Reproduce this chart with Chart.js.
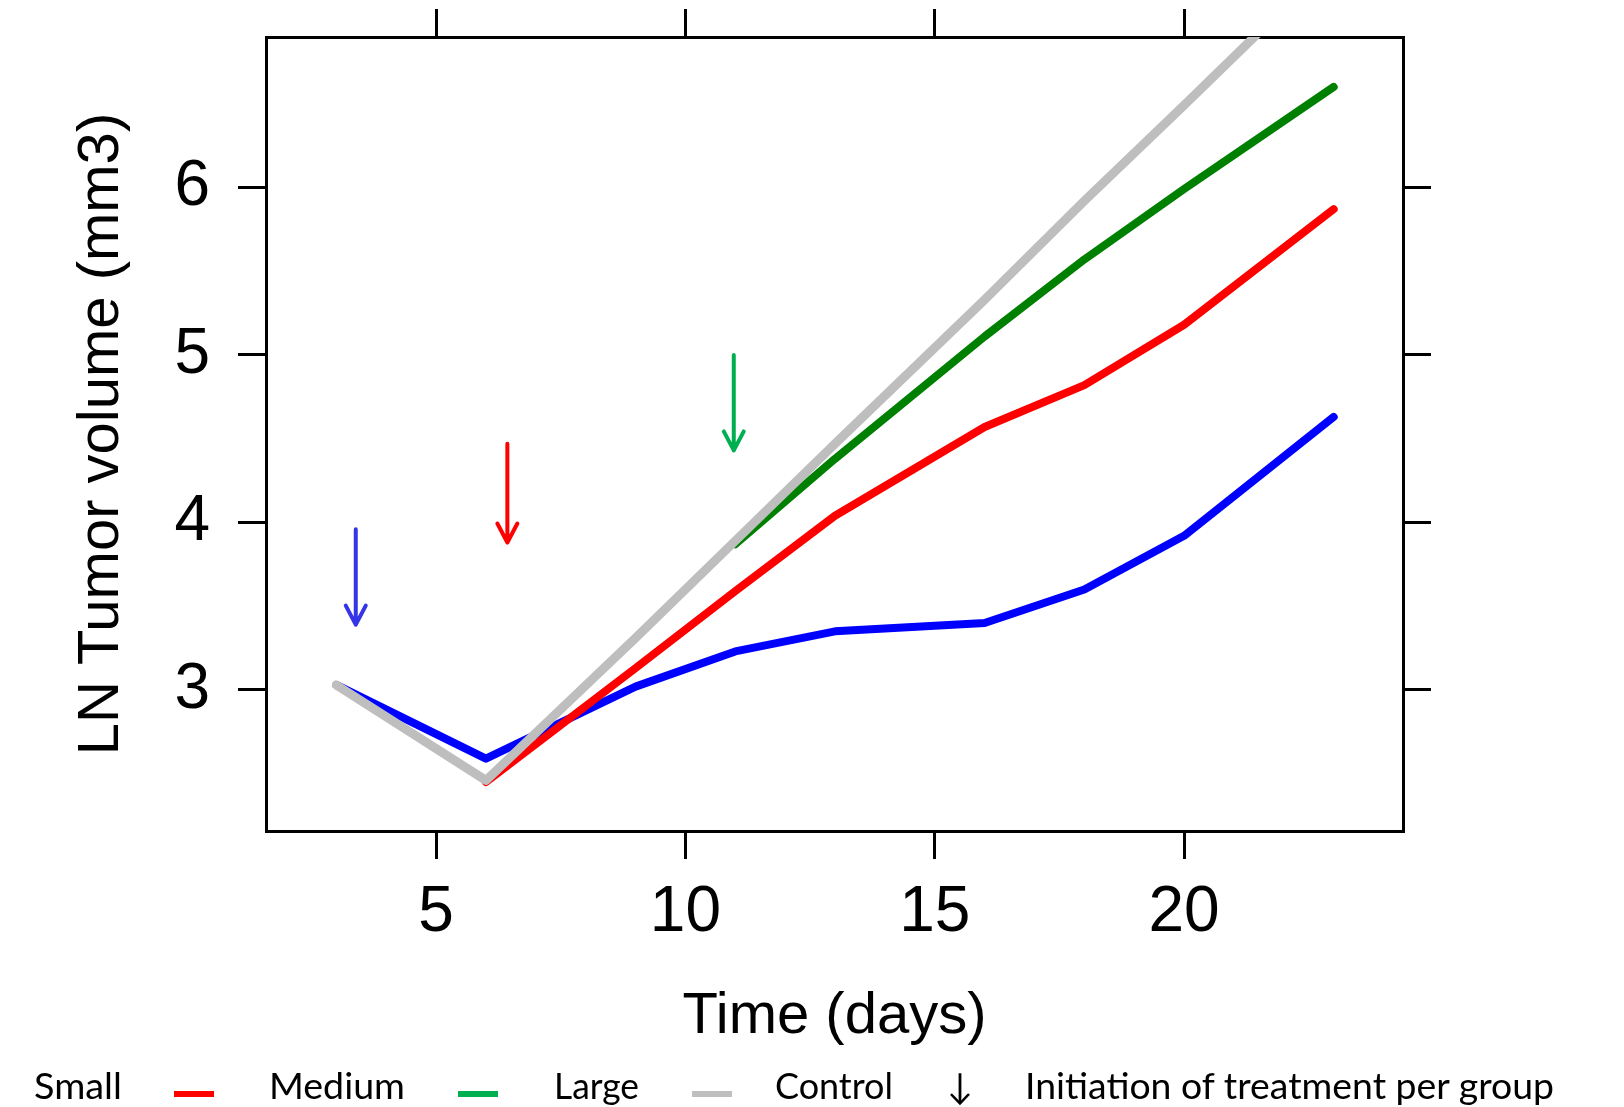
<!DOCTYPE html>
<html>
<head>
<meta charset="utf-8">
<title>LN Tumor volume</title>
<script src="https://cdn.jsdelivr.net/npm/chart.js@4.4.1/dist/chart.umd.min.js"></script>
<style>
  html, body { margin: 0; padding: 0; background: #fff; }
  #wrap { position: relative; width: 1624px; height: 1107px; overflow: hidden; }
  #plot { position: absolute; left: 0; top: 0; width: 1624px; height: 1107px; }
  .lg { position: absolute; top: 1085px; transform-origin: left center; white-space: nowrap;
        font-family: Lato, 'Open Sans', sans-serif; font-size: 36px; color: #000;
        line-height: 1; margin-top: -18px; }
  .sw { position: absolute; height: 6px; top: 1091px; }
</style>
</head>
<body>
<div id="wrap">
  <div id="plot"><canvas id="chart"></canvas></div>
  <div id="legend"></div>
</div>
<script>
// measurement days
const days = [3, 6, 9, 11, 13, 16, 18, 20, 23];

// log tumour volume per group (null = group not yet measured)
const smallVals   = [3.03, 2.59, 3.02, 3.23, 3.35, 3.40, 3.60, 3.92, 4.63];
const mediumVals  = [null, 2.45, 3.13, 3.59, 4.04, 4.57, 4.82, 5.18, 5.87];
const largeVals   = [null, null, null, 3.87, 4.38, 5.11, 5.57, 5.99, 6.60];
const controlVals = [3.03, 2.46, 3.31, 3.89, 4.47, 5.33, 5.92, 6.49, 7.36];

const xTicks = [5, 10, 15, 20];
const yTicks = [3, 4, 5, 6];

// treatment start arrows: day, top of shaft, tip
const arrowDays = [3.39, 6.43, 10.97];
const arrowTops = [3.96, 4.47, 5.0];
const arrowTips = [3.39, 3.88, 4.43];
const arrowColors = ['#3535e8', '#ff0000', '#00b050'];

const legendItems = [
  { text: 'Small', left: 34, width: 88 },
  { swatch: '#ff0000', left: 174, width: 40 },
  { text: 'Medium', left: 269, width: 136 },
  { swatch: '#00b050', left: 458, width: 40 },
  { text: 'Large', left: 554, width: 85 },
  { swatch: '#bfbfbf', left: 692, width: 40 },
  { text: 'Control', left: 775, width: 118 },
  { text: '\u2193', left: 947, width: 26 },
  { text: 'Initiation of treatment per group', left: 1025, width: 529 }
];

function toPoints(vals) {
  return days.map((d, i) => ({ x: d, y: vals[i] })).filter((p) => p.y !== null);
}

function lineSet(label, vals, color, width, order) {
  return {
    label,
    data: toPoints(vals),
    borderColor: color,
    backgroundColor: color,
    borderWidth: width,
    borderCapStyle: 'round',
    borderJoinStyle: 'round',
    pointRadius: 0,
    tension: 0,
    fill: false,
    order
  };
}

const arrowPlugin = {
  id: 'treatmentArrows',
  afterDatasetsDraw(chart) {
    const { ctx, scales: { x, y } } = chart;
    ctx.save();
    ctx.lineWidth = 4;
    ctx.lineCap = 'round';
    ctx.lineJoin = 'round';
    arrowDays.forEach((d, i) => {
      const px = x.getPixelForValue(d);
      const top = y.getPixelForValue(arrowTops[i]);
      const tip = y.getPixelForValue(arrowTips[i]);
      ctx.strokeStyle = arrowColors[i];
      ctx.beginPath();
      ctx.moveTo(px, top);
      ctx.lineTo(px, tip);
      ctx.moveTo(px - 10, tip - 19);
      ctx.lineTo(px, tip);
      ctx.lineTo(px + 10, tip - 19);
      ctx.stroke();
    });
    ctx.restore();
  }
};

// force the axis boxes to fixed sizes and drop label overflow padding
const fixSize = (w, h) => (scale) => {
  if (w != null) scale.width = w;
  if (h != null) scale.height = h;
  scale.paddingTop = 0;
  scale.paddingBottom = 0;
  scale.paddingLeft = 0;
  scale.paddingRight = 0;
};

const tickGrid = {
  display: true,
  drawOnChartArea: false,
  drawTicks: true,
  tickLength: 28,
  lineWidth: 3,
  tickWidth: 3,
  color: '#000',
  tickColor: '#000'
};
const frame = { display: true, width: 3, color: '#000' };
const tickFont = { family: "'Liberation Sans', Arial, sans-serif", size: 64 };
const titleFont = { family: "'Liberation Sans', Arial, sans-serif", size: 58 };

const xMin = 1.59, xMax = 24.39;
const yMin = 2.158, yMax = 6.898;

new Chart(document.getElementById('chart'), {
  type: 'line',
  data: {
    datasets: [
      lineSet('Control', controlVals, '#bebebe', 9, 0),
      lineSet('Large', largeVals, '#008000', 8, 1),
      lineSet('Medium', mediumVals, '#ff0000', 8, 2),
      lineSet('Small', smallVals, '#0000ff', 8, 3)
    ]
  },
  options: {
    responsive: true,
    maintainAspectRatio: false,
    animation: false,
    layout: { padding: 0, autoPadding: false },
    plugins: { legend: { display: false }, tooltip: { enabled: false } },
    scales: {
      x: {
        type: 'linear', position: 'bottom', min: xMin, max: xMax,
        afterBuildTicks: (s) => { s.ticks = xTicks.map((v) => ({ value: v })); },
        afterFit: fixSize(null, 276),
        grid: tickGrid, border: frame,
        ticks: { color: '#000', font: tickFont, padding: 16, maxRotation: 0 },
        title: { display: true, text: 'Time (days)', color: '#000', font: titleFont, padding: { bottom: 55 } }
      },
      xTop: {
        type: 'linear', position: 'top', min: xMin, max: xMax,
        afterBuildTicks: (s) => { s.ticks = xTicks.map((v) => ({ value: v })); },
        afterFit: fixSize(null, 37),
        grid: tickGrid, border: frame,
        ticks: { display: false }
      },
      y: {
        type: 'linear', position: 'left', min: yMin, max: yMax,
        afterBuildTicks: (s) => { s.ticks = yTicks.map((v) => ({ value: v })); },
        afterFit: fixSize(266, null),
        grid: tickGrid, border: frame,
        ticks: { color: '#000', font: tickFont, padding: 28 },
        title: { display: true, text: 'LN Tumor volume (mm3)', color: '#000', font: titleFont, padding: { top: 67 } }
      },
      yRight: {
        type: 'linear', position: 'right', min: yMin, max: yMax,
        afterBuildTicks: (s) => { s.ticks = yTicks.map((v) => ({ value: v })); },
        afterFit: fixSize(221, null),
        grid: tickGrid, border: frame,
        ticks: { display: false }
      }
    }
  },
  plugins: [arrowPlugin]
});

// legend below the plot, built from legendItems
const legendEl = document.getElementById('legend');
legendItems.forEach((it) => {
  const el = document.createElement('div');
  if (it.swatch) {
    el.className = 'sw';
    el.style.background = it.swatch;
    el.style.width = it.width + 'px';
  } else {
    el.className = 'lg';
    el.textContent = it.text;
  }
  el.style.left = it.left + 'px';
  el.dataset.w = it.width;
  legendEl.appendChild(el);
});
legendEl.querySelectorAll('.lg').forEach((el) => {
  const w = el.getBoundingClientRect().width;
  if (w > 0) el.style.transform = `scaleX(${Number(el.dataset.w) / w})`;
});
</script>
</body>
</html>
